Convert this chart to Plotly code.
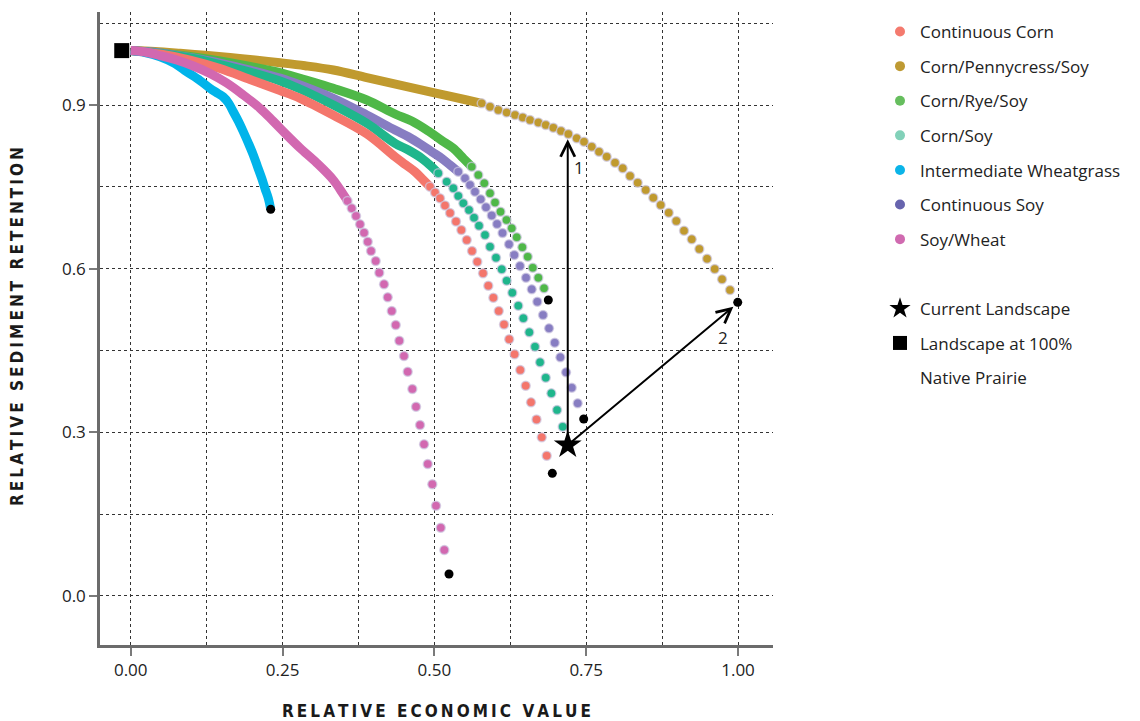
import plotly.graph_objects as go

# ---------------- data ----------------
cc_x = [0.0, 0.0482, 0.0976, 0.1470, 0.1964, 0.2458, 0.2788, 0.3331, 0.3891, 0.4352, 0.4517, 0.4681, 0.4818, 0.4928,
        0.5011, 0.5093, 0.5175, 0.5258, 0.5356, 0.5444, 0.5533, 0.5620, 0.5707, 0.5801, 0.5888, 0.5971, 0.6060,
        0.6147, 0.6232, 0.6320, 0.6414, 0.6504, 0.6591, 0.6682, 0.6768, 0.6850, 0.6942]
cc_y = [1.0, 0.9937, 0.9827, 0.9671, 0.9470, 0.9268, 0.9125, 0.8819, 0.8470, 0.8054, 0.7915, 0.7779, 0.7627, 0.7504,
        0.7398, 0.7291, 0.7159, 0.7022, 0.6866, 0.6710, 0.6527, 0.6325, 0.6129, 0.5916, 0.5688, 0.5468, 0.5225,
        0.4977, 0.4707, 0.4432, 0.4143, 0.3855, 0.3550, 0.3235, 0.2908, 0.2571, 0.2248]

cps_x = [0.0, 0.0400, 0.0812, 0.1223, 0.1635, 0.2047, 0.2458, 0.2870, 0.3336, 0.3886, 0.4434, 0.4983, 0.5533, 0.5780,
         0.5916, 0.6053, 0.6191, 0.6328, 0.6455, 0.6575, 0.6712, 0.6834, 0.6959, 0.7085, 0.7206, 0.7344, 0.7464,
         0.7591, 0.7711, 0.7838, 0.7975, 0.8101, 0.8222, 0.8348, 0.8480, 0.8605, 0.8727, 0.8859, 0.8984, 0.9111,
         0.9238, 0.9363, 0.9490, 0.9616, 0.9737, 0.9868, 0.9995]
cps_y = [1.0, 0.9983, 0.9950, 0.9913, 0.9873, 0.9827, 0.9778, 0.9723, 0.9644, 0.9506, 0.9369, 0.9231, 0.9094, 0.9033,
         0.8971, 0.8910, 0.8865, 0.8819, 0.8773, 0.8727, 0.8681, 0.8635, 0.8586, 0.8525, 0.8470, 0.8391, 0.8329,
         0.8237, 0.8146, 0.8054, 0.7944, 0.7841, 0.7700, 0.7577, 0.7443, 0.7302, 0.7168, 0.7027, 0.6875, 0.6697,
         0.6539, 0.6361, 0.6184, 0.5995, 0.5806, 0.5610, 0.5384]

crs_x = [0.0, 0.0482, 0.0976, 0.1470, 0.1964, 0.2458, 0.2788, 0.3336, 0.3886, 0.4352, 0.4627, 0.4900, 0.5121, 0.5312,
         0.5477, 0.5615, 0.5724, 0.5822, 0.5916, 0.5999, 0.6089, 0.6188, 0.6274, 0.6356, 0.6448, 0.6537, 0.6620,
         0.6712, 0.6806, 0.6876]
crs_y = [1.0, 0.9956, 0.9892, 0.9809, 0.9708, 0.9598, 0.9492, 0.9308, 0.9094, 0.8837, 0.8709, 0.8525, 0.8351, 0.8208,
         0.8025, 0.7871, 0.7718, 0.7566, 0.7383, 0.7214, 0.7045, 0.6893, 0.6741, 0.6576, 0.6393, 0.6220, 0.6019,
         0.5835, 0.5641, 0.5426]

cs_x = [0.0, 0.0482, 0.0976, 0.1470, 0.1964, 0.2458, 0.2788, 0.3336, 0.3886, 0.4352, 0.4571, 0.4792, 0.4956, 0.5065,
        0.5203, 0.5312, 0.5394, 0.5477, 0.5570, 0.5653, 0.5735, 0.5834, 0.5916, 0.6015, 0.6109, 0.6191, 0.6283,
        0.6382, 0.6465, 0.6563, 0.6657, 0.6740, 0.6834, 0.6926, 0.7020, 0.7113, 0.7196]
cs_y = [1.0, 0.9947, 0.9864, 0.9745, 0.9607, 0.9442, 0.9296, 0.9002, 0.8667, 0.8300, 0.8177, 0.8025, 0.7871, 0.7750,
        0.7596, 0.7475, 0.7333, 0.7200, 0.7077, 0.6935, 0.6789, 0.6618, 0.6404, 0.6202, 0.5989, 0.5780, 0.5560,
        0.5322, 0.5091, 0.4834, 0.4570, 0.4284, 0.4001, 0.3715, 0.3409, 0.3103, 0.2767]

iw_x = [0.0, 0.0235, 0.0482, 0.0729, 0.0922, 0.1141, 0.1306, 0.1437, 0.1525, 0.1610, 0.1689, 0.1775, 0.1854, 0.1940,
        0.2019, 0.2088, 0.2157, 0.2211, 0.2266, 0.2305]
iw_y = [1.0, 0.9965, 0.9888, 0.9763, 0.9613, 0.9451, 0.9308, 0.9213, 0.9149, 0.9039, 0.8879, 0.8700, 0.8512, 0.8296,
        0.8085, 0.7871, 0.7658, 0.7471, 0.7291, 0.7089]

soy_x = [0.0, 0.0482, 0.0976, 0.1470, 0.1964, 0.2458, 0.2788, 0.3336, 0.3886, 0.4352, 0.4571, 0.4792, 0.4956, 0.5121,
         0.5258, 0.5394, 0.5505, 0.5587, 0.5669, 0.5763, 0.5850, 0.5944, 0.6032, 0.6122, 0.6229, 0.6316, 0.6410,
         0.6509, 0.6603, 0.6695, 0.6789, 0.6888, 0.6982, 0.7074, 0.7168, 0.7262, 0.7360, 0.7459]
soy_y = [1.0, 0.9956, 0.9873, 0.9772, 0.9644, 0.9497, 0.9369, 0.9125, 0.8819, 0.8544, 0.8421, 0.8269, 0.8146, 0.8025,
         0.7902, 0.7779, 0.7658, 0.7535, 0.7412, 0.7273, 0.7126, 0.6976, 0.6820, 0.6655, 0.6448, 0.6251, 0.6050,
         0.5835, 0.5622, 0.5395, 0.5151, 0.4907, 0.4643, 0.4375, 0.4100, 0.3818, 0.3532, 0.3244]

sw_x = [0.0, 0.0235, 0.0482, 0.0757, 0.1031, 0.1306, 0.1581, 0.1854, 0.2129, 0.2343, 0.2569, 0.2788, 0.3063, 0.3336,
        0.3496, 0.3570, 0.3639, 0.3710, 0.3776, 0.3842, 0.3903, 0.3957, 0.4034, 0.4093, 0.4171, 0.4232, 0.4298,
        0.4364, 0.4423, 0.4500, 0.4561, 0.4637, 0.4698, 0.4764, 0.4830, 0.4891, 0.4966, 0.5027, 0.5105, 0.5164,
        0.5241]
sw_y = [1.0, 0.9974, 0.9910, 0.9827, 0.9717, 0.9580, 0.9405, 0.9186, 0.8942, 0.8709, 0.8452, 0.8214, 0.7939, 0.7627,
        0.7370, 0.7242, 0.7108, 0.6967, 0.6814, 0.6660, 0.6495, 0.6325, 0.6141, 0.5927, 0.5714, 0.5476, 0.5225,
        0.4968, 0.4680, 0.4399, 0.4111, 0.3794, 0.3470, 0.3134, 0.2780, 0.2419, 0.2047, 0.1654, 0.1251, 0.0842,
        0.0402]

# number of leading points that merge into a continuous band
cc_dense, cps_dense, crs_dense, cs_dense = 14, 14, 16, 14
iw_dense, soy_dense, sw_dense = 20, 16, 16

current_x, current_y = [0.7196], [0.2767]
prairie_x, prairie_y = [-0.0148], [1.0]

arrow1_head = (0.7196, 0.8373)
arrow2_head = (0.9923, 0.5303)
label1_pos = (0.7381, 0.786)
label2_pos = (0.9758, 0.4742)

x_ticks = [0.0, 0.25, 0.5, 0.75, 1.0]
y_ticks = [0.0, 0.3, 0.6, 0.9]

# ---------------- style ----------------
FONT = "Open Sans"
series = [
    # name, x, y, dense, curve colour, legend colour
    ("Corn/Pennycress/Soy", cps_x, cps_y, cps_dense, "#C09A2E", "#BE9A33"),
    ("Corn/Rye/Soy", crs_x, crs_y, crs_dense, "#4FB848", "#66BE5E"),
    ("Continuous Soy", soy_x, soy_y, soy_dense, "#877DC2", "#6764AE"),
    ("Corn/Soy", cs_x, cs_y, cs_dense, "#1FB68C", "#82D1B9"),
    ("Continuous Corn", cc_x, cc_y, cc_dense, "#F4766C", "#F47A6E"),
    ("Intermediate Wheatgrass", iw_x, iw_y, iw_dense, "#00B4EA", "#0BB4E8"),
    ("Soy/Wheat", sw_x, sw_y, sw_dense, "#D268B0", "#D06AB0"),
]
legend_order = ["Continuous Corn", "Corn/Pennycress/Soy", "Corn/Rye/Soy", "Corn/Soy",
                "Intermediate Wheatgrass", "Continuous Soy", "Soy/Wheat"]

fig = go.Figure()

for name, xs, ys, n, col, _ in series:
    # dense band
    fig.add_trace(go.Scatter(x=xs[:n], y=ys[:n], mode="lines", line=dict(color=col, width=9, shape="spline"),
                             showlegend=False, hoverinfo="skip"))
    # sparse dots
    if n < len(xs):
        fig.add_trace(go.Scatter(x=xs[n - 1:-1], y=ys[n - 1:-1], mode="markers",
                                 marker=dict(color=col, size=9, line=dict(color="rgba(205,200,225,0.7)", width=1.5)),
                                 showlegend=False, name=name))

# end points
fig.add_trace(go.Scatter(x=[s[1][-1] for s in series], y=[s[2][-1] for s in series], mode="markers",
                         marker=dict(color="black", size=9), showlegend=False, hoverinfo="skip"))

fig.add_trace(go.Scatter(x=prairie_x, y=prairie_y, mode="markers",
                         marker=dict(symbol="square", color="black", size=15), showlegend=False))
fig.add_trace(go.Scatter(x=current_x, y=current_y, mode="markers",
                         marker=dict(symbol="star", color="black", size=21), showlegend=False))

# legend entries
leg_cols = {s[0]: s[5] for s in series}
for i, name in enumerate(legend_order):
    fig.add_trace(go.Scatter(x=[None], y=[None], mode="markers", name=name, legendgroup=f"g{i}",
                             marker=dict(color=leg_cols[name], size=10)))
fig.add_trace(go.Scatter(x=[None], y=[None], mode="markers", name="\u00a0", legendgroup="gs",
                         marker=dict(color="rgba(255,255,255,0)", size=10)))
fig.add_trace(go.Scatter(x=[None], y=[None], mode="markers", name="Current Landscape", legendgroup="gc",
                         marker=dict(color="black", size=18, symbol="star")))
fig.add_trace(go.Scatter(x=[None], y=[None], mode="markers", name="Landscape at 100%", legendgroup="gp",
                         marker=dict(color="black", size=14, symbol="square")))
fig.add_trace(go.Scatter(x=[None], y=[None], mode="markers", name="Native Prairie", legendgroup="gn",
                         marker=dict(color="rgba(255,255,255,0)", size=10)))

def spaced(t):
    return "\u2009".join(list(t))

title_font = dict(family="Liberation Sans Narrow, DejaVu Sans Condensed, Roboto, sans-serif",
                  size=17, color="#1a1a1a", weight="bold")

annotations = [
    dict(x=arrow1_head[0], y=arrow1_head[1], ax=current_x[0], ay=current_y[0], xref="x", yref="y",
         axref="x", ayref="y", text="", showarrow=True, arrowhead=5, arrowsize=1.4, arrowwidth=2,
         arrowcolor="black", standoff=0, startstandoff=0),
    dict(x=arrow2_head[0], y=arrow2_head[1], ax=current_x[0], ay=current_y[0], xref="x", yref="y",
         axref="x", ayref="y", text="", showarrow=True, arrowhead=5, arrowsize=1.4, arrowwidth=2,
         arrowcolor="black", standoff=0, startstandoff=0),
    dict(x=label1_pos[0], y=label1_pos[1], xref="x", yref="y", text="1", showarrow=False,
         font=dict(family=FONT, size=17, color="#222")),
    dict(x=label2_pos[0], y=label2_pos[1], xref="x", yref="y", text="2", showarrow=False,
         font=dict(family=FONT, size=17, color="#222")),
    dict(x=0.5, y=-0.1043, xref="paper", yref="paper", text=spaced("RELATIVE ECONOMIC VALUE"),
         showarrow=False, font=title_font, xanchor="center", yanchor="middle"),
    dict(x=-0.1233, y=0.5024, xref="paper", yref="paper", text=spaced("RELATIVE SEDIMENT RETENTION"),
         showarrow=False, font=title_font, textangle=-90, xanchor="center", yanchor="middle"),
]

axis_common = dict(showline=True, linecolor="#6b6b6b", linewidth=2.5, ticks="outside", ticklen=8,
                   tickwidth=2, tickcolor="#7a7a7a", showgrid=True, gridcolor="#333333", gridwidth=1,
                   griddash="dot", zeroline=False, tickfont=dict(family=FONT, size=17, color="#222"))

# the page body adds an 8px offset, so the figure is laid out 8px up/left
fig.update_layout(
    width=1140, height=721,
    margin=dict(l=92, r=375, t=4, b=84),
    paper_bgcolor="white", plot_bgcolor="white",
    font=dict(family=FONT),
    xaxis=dict(range=[-0.0506, 1.0576], tickvals=x_ticks, tickformat=".2f",
               minor=dict(dtick=0.125, tick0=0, showgrid=True, gridcolor="#333333", griddash="dot", gridwidth=1,
                          ticks=""), **axis_common),
    yaxis=dict(range=[-0.09, 1.0708], tickvals=y_ticks, tickformat=".1f",
               minor=dict(dtick=0.15, tick0=0, showgrid=True, gridcolor="#333333", griddash="dot", gridwidth=1,
                          ticks=""), **axis_common),
    legend=dict(xref="container", yref="container", x=872 / 1140, y=1 - 6 / 721, xanchor="left", yanchor="top",
                font=dict(family=FONT, size=17, color="#222"), traceorder="grouped", tracegroupgap=9.5,
                itemsizing="trace", bgcolor="rgba(0,0,0,0)", maxheight=650),
    annotations=annotations,
)

fig.write_html("out.html")
